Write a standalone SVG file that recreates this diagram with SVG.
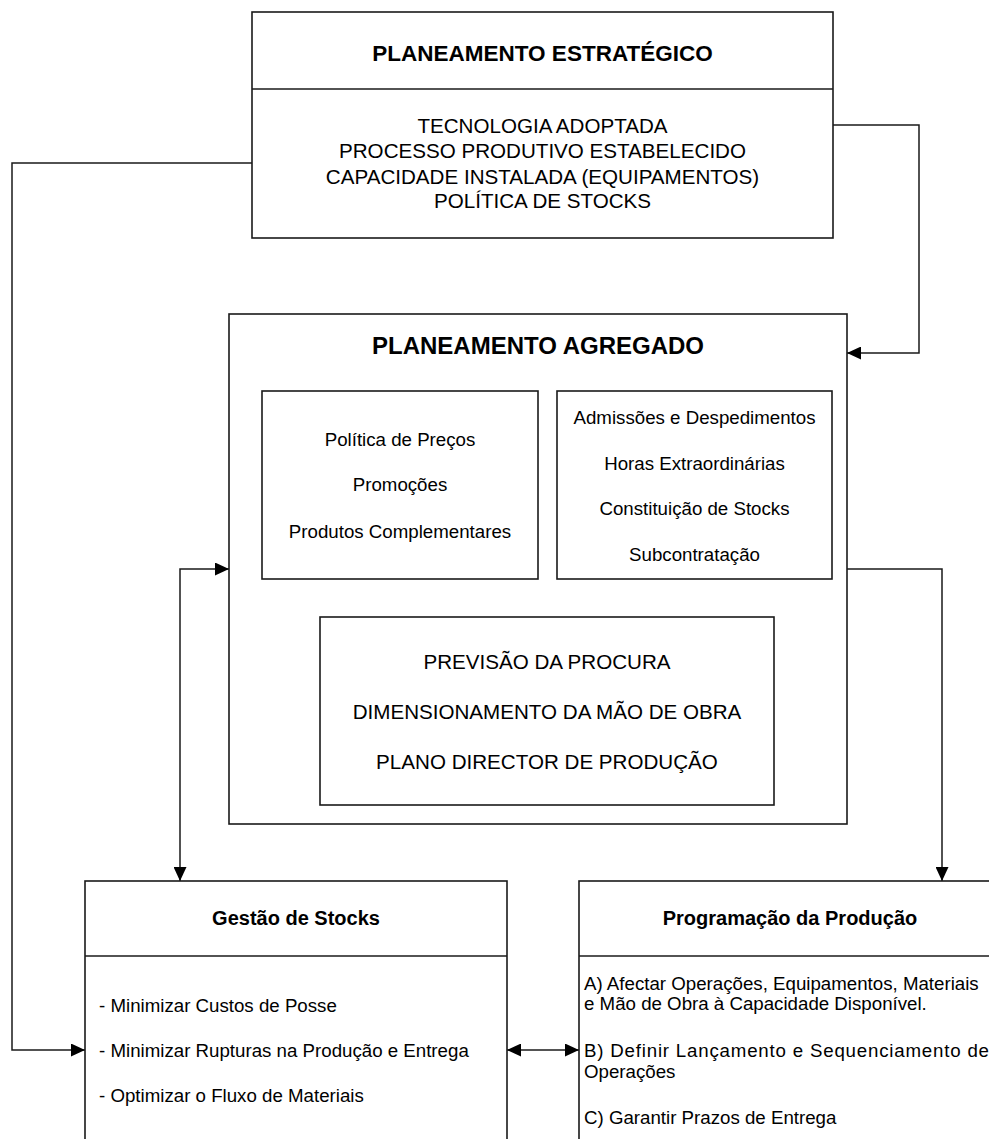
<svg xmlns="http://www.w3.org/2000/svg" width="989" height="1139" viewBox="0 0 989 1139">
  <style>
    .box { fill: #ffffff; stroke: #1a1a1a; stroke-width: 1.6; }
    .sep { stroke: #1a1a1a; stroke-width: 1.6; }
    .wire { fill: none; stroke: #1a1a1a; stroke-width: 1.5; }
    .title { font-family: "Liberation Sans", Arial, sans-serif; font-weight: bold; fill: #000; text-anchor: middle; }
    .caps { font-family: "Liberation Sans", Arial, sans-serif; font-size: 20.6px; fill: #000; text-anchor: middle; }
    .txt { font-family: "Liberation Sans", Arial, sans-serif; font-size: 18.7px; fill: #000; }
    .mid { text-anchor: middle; }
  </style>
  <defs>
    <marker id="arrow" viewBox="0 0 14 13" refX="14" refY="6.5" markerWidth="14" markerHeight="13" markerUnits="userSpaceOnUse" orient="auto-start-reverse">
      <path d="M0,0 L14,6.5 L0,13 Z" fill="#000"/>
    </marker>
  </defs>

  <rect width="989" height="1139" fill="#ffffff"/>

  <!-- connectors -->
  <g id="connectors">
    <!-- strategic plan -> aggregate plan (right side) -->
    <path class="wire" d="M833,125 H919 V353 H847" marker-end="url(#arrow)"/>
    <!-- strategic plan -> stock management (left side) -->
    <path class="wire" d="M252,163 H12 V1050 H85" marker-end="url(#arrow)"/>
    <!-- aggregate plan <-> stock management -->
    <path class="wire" d="M229,569 H180 V881" marker-start="url(#arrow)" marker-end="url(#arrow)"/>
    <!-- aggregate plan -> production scheduling -->
    <path class="wire" d="M847,569 H942 V881" marker-end="url(#arrow)"/>
    <!-- stock management <-> production scheduling -->
    <path class="wire" d="M507,1050 H579" marker-start="url(#arrow)" marker-end="url(#arrow)"/>
  </g>

  <!-- strategic planning -->
  <g id="planeamento-estrategico">
    <rect class="box" x="252" y="12" width="581" height="226"/>
    <line class="sep" x1="252" y1="89" x2="833" y2="89"/>
    <text class="title" x="542.5" y="61" font-size="22.5">PLANEAMENTO ESTRATÉGICO</text>
    <text class="caps" x="542.5" y="133" font-size="20.8">TECNOLOGIA ADOPTADA</text>
    <text class="caps" x="542.5" y="158" font-size="20.8">PROCESSO PRODUTIVO ESTABELECIDO</text>
    <text class="caps" x="542.5" y="184" font-size="20.8">CAPACIDADE INSTALADA (EQUIPAMENTOS)</text>
    <text class="caps" x="542.5" y="208" font-size="20.8">POLÍTICA DE STOCKS</text>
  </g>

  <!-- aggregate planning -->
  <g id="planeamento-agregado">
    <rect class="box" x="229" y="314" width="618" height="510"/>
    <text class="title" x="538" y="354" font-size="24">PLANEAMENTO AGREGADO</text>
  </g>

  <g id="procura">
    <rect class="box" x="262" y="391" width="276" height="188"/>
    <text class="txt mid" x="400" y="446">Política de Preços</text>
    <text class="txt mid" x="400" y="491">Promoções</text>
    <text class="txt mid" x="400" y="538">Produtos Complementares</text>
  </g>

  <g id="capacidade">
    <rect class="box" x="557" y="391" width="275" height="188"/>
    <text class="txt mid" x="694.5" y="424">Admissões e Despedimentos</text>
    <text class="txt mid" x="694.5" y="470">Horas Extraordinárias</text>
    <text class="txt mid" x="694.5" y="515">Constituição de Stocks</text>
    <text class="txt mid" x="694.5" y="561">Subcontratação</text>
  </g>

  <g id="plano-director">
    <rect class="box" x="320" y="617" width="454" height="188"/>
    <text class="caps" x="547" y="669">PREVISÃO DA PROCURA</text>
    <text class="caps" x="547" y="719">DIMENSIONAMENTO DA MÃO DE OBRA</text>
    <text class="caps" x="547" y="769">PLANO DIRECTOR DE PRODUÇÃO</text>
  </g>

  <!-- stock management -->
  <g id="gestao-stocks">
    <rect class="box" x="85" y="881" width="422" height="280"/>
    <line class="sep" x1="85" y1="956" x2="507" y2="956"/>
    <text class="title" x="296" y="925" font-size="20">Gestão de Stocks</text>
    <text class="txt" x="99" y="1012">- Minimizar Custos de Posse</text>
    <text class="txt" x="99" y="1057">- Minimizar Rupturas na Produção e Entrega</text>
    <text class="txt" x="99" y="1102">- Optimizar o Fluxo de Materiais</text>
  </g>

  <!-- production scheduling -->
  <g id="programacao-producao">
    <rect class="box" x="579" y="881" width="422" height="280"/>
    <line class="sep" x1="579" y1="956" x2="1001" y2="956"/>
    <text class="title" x="790" y="925" font-size="20">Programação da Produção</text>
    <text class="txt" x="584" y="990">A) Afectar Operações, Equipamentos, Materiais</text>
    <text class="txt" x="584" y="1010">e Mão de Obra à Capacidade Disponível.</text>
    <text class="txt" x="584" y="1057" textLength="405" lengthAdjust="spacing">B) Definir Lançamento e Sequenciamento de</text>
    <text class="txt" x="584" y="1078">Operações</text>
    <text class="txt" x="584" y="1124">C) Garantir Prazos de Entrega</text>
  </g>
</svg>
